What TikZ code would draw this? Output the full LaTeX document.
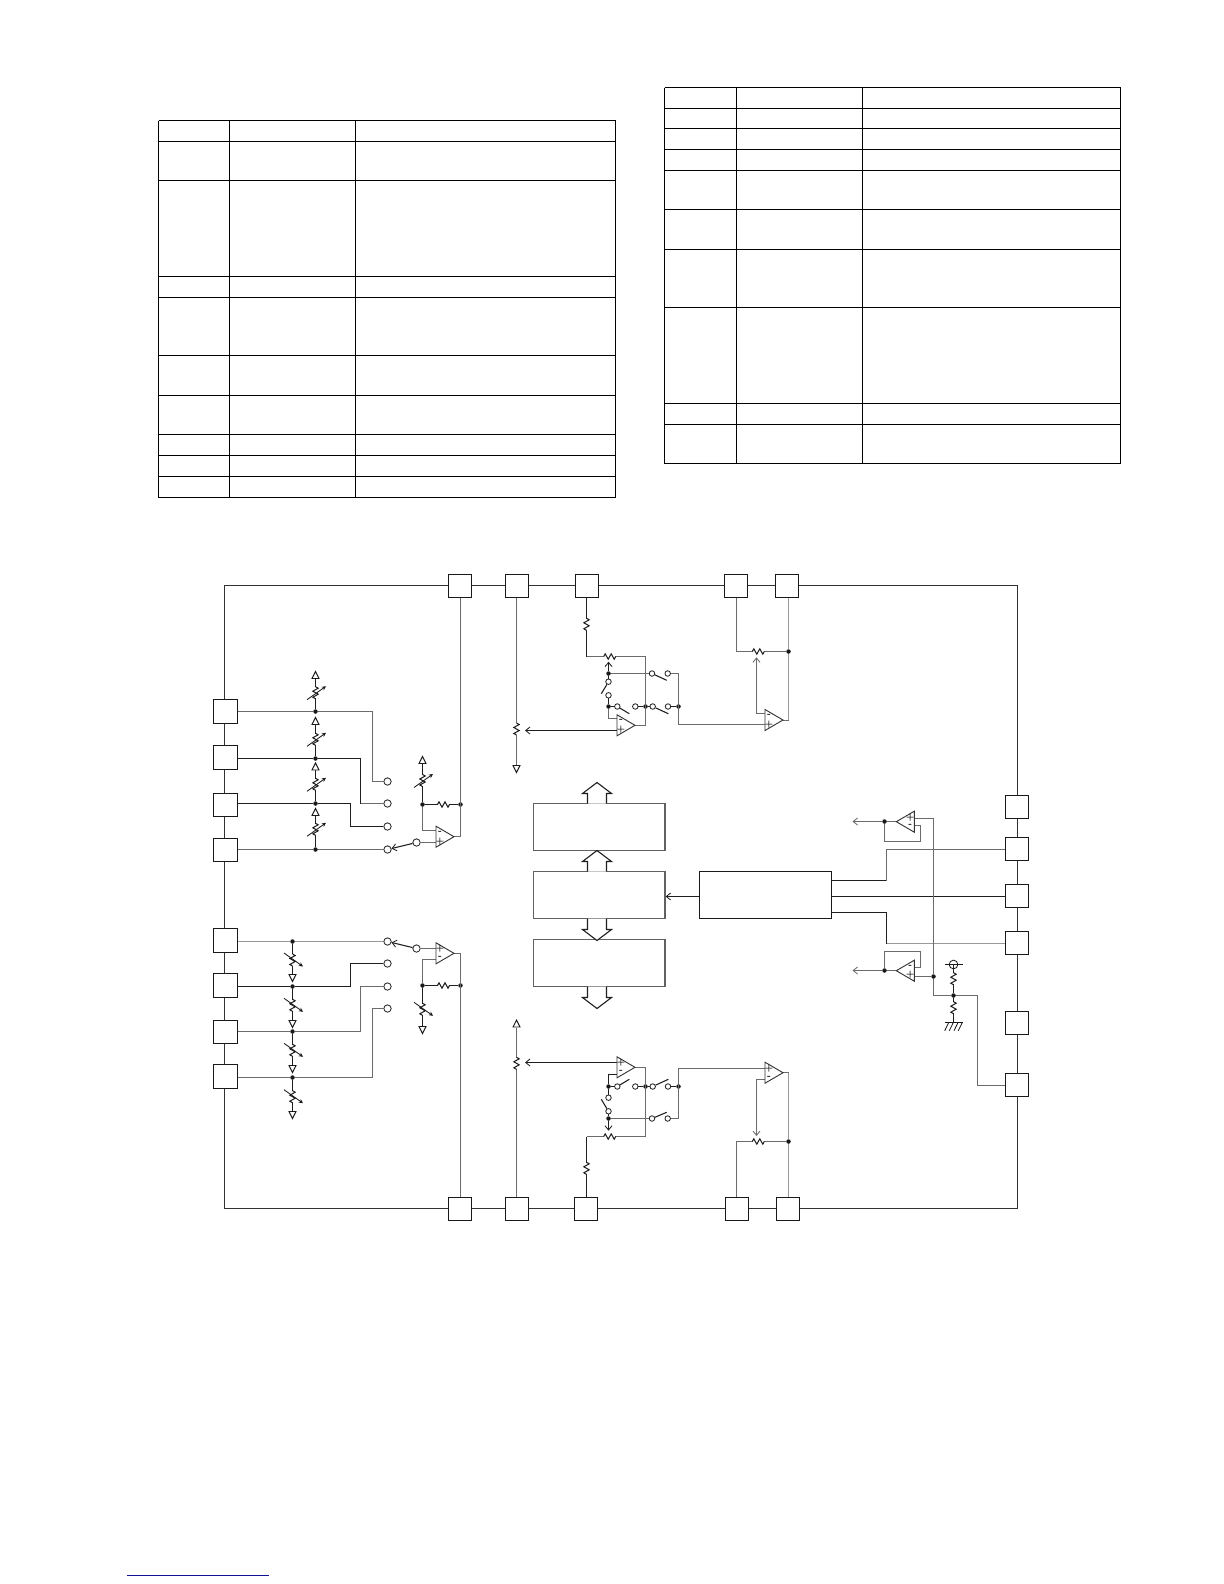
\documentclass[tikz,border=0pt]{standalone}
\usetikzlibrary{arrows.meta}
\definecolor{navyrule}{RGB}{18,18,150}
\tikzset{
 x=0.6pt,y=-0.6pt,
 wire/.style={line width=.64pt,draw=black!88},
 gw/.style={line width=.7pt,draw=black!58},
 lg/.style={line width=.8pt,draw=black!40},
 rule/.style={line width=.7pt,draw=black},
 pin/.style={draw=black!90,fill=white,line width=.6pt,minimum width=14pt,minimum height=14pt,inner sep=0pt},
 blk/.style={draw=black!62,fill=white,line width=.72pt,minimum width=79pt,minimum height=28.4pt,inner sep=0pt},
 dotn/.style={circle,fill=black!90,inner sep=0pt,minimum size=2.7pt},
 term/.style={circle,draw=black!85,fill=white,line width=.5pt,inner sep=0pt,minimum size=4.4pt},
 sterm/.style={circle,draw=black!85,fill=white,line width=.5pt,inner sep=0pt,minimum size=3.3pt},
 sign/.style={inner sep=0pt,font=\fontsize{4.5}{4.5}\selectfont\bfseries},
 barb/.style={-{Straight Barb[length=2.6pt,width=4.2pt,line width=.5pt]}},
 fat/.style={draw=black!88,fill=white,line width=.66pt},
 pics/hres/.style={code={\fill[white] (-5.6,-1) rectangle (5.6,1);
   \draw[line width=.6pt,black!90] (-6,0)--(-4.5,-2.7)--(-1.5,2.7)--(1.5,-2.7)--(4.5,2.7)--(6,0);}},
 pics/vres/.style={code={\fill[white] (-1,-5.6) rectangle (1,5.6);
   \draw[line width=.6pt,black!90] (0,-6)--(2.7,-4.5)--(-2.7,-1.5)--(2.7,1.5)--(-2.7,4.5)--(0,6);}},
 pics/varu/.style={code={\pic {vres};
   \draw[line width=.5pt,black!90,-{Stealth[length=2.5pt,width=2.4pt]}] (-8.5,7)--(10.5,-6.5);}},
 pics/vard/.style={code={\pic {vres};
   \draw[line width=.5pt,black!90,-{Stealth[length=2.5pt,width=2.4pt]}] (-8.5,-7)--(10.5,6.5);}},
 pics/triu/.style={code={\draw[line width=.55pt,black!90,fill=white] (0,0)--(3.5,7)--(-3.5,7)--cycle;}},
 pics/trid/.style={code={\draw[line width=.55pt,black!90,fill=white] (0,0)--(3.5,-7)--(-3.5,-7)--cycle;}},
 pics/ampr/.style 2 args={code={\draw[line width=.55pt,black!80,fill=white] (0,-10.5)--(0,10.5)--(18,0)--cycle;
   \node[sign] at (4,-4.5) {#1}; \node[sign] at (4,4.5) {#2};}},
 pics/ampl/.style 2 args={code={\draw[line width=.55pt,black!80,fill=white] (0,-10.5)--(0,10.5)--(-18,0)--cycle;
   \node[sign] at (-4,-4) {#1}; \node[sign] at (-4,4) {#2};}},
}
\begin{document}
\begin{tikzpicture}
\path[use as bounding box,fill=white] (0,0) rectangle (1224,1584);

% ---- tables
\foreach \y in {120.5,141.5,180.5,276.5,297.5,355.5,395.5,434.5,455.5,476.5,497.5}
  \draw[rule] (158.5,\y)--(615.5,\y);
\foreach \x in {158.5,229.5,355.5,615.5}
  \draw[rule] (\x,120.5)--(\x,497.5);
\foreach \y in {87.5,108.5,128.5,149.5,170.5,209.5,249.5,307.5,403.5,424.5,463.5}
  \draw[rule] (664.5,\y)--(1120.5,\y);
\foreach \x in {664.5,736.5,862.5,1120.5}
  \draw[rule] (\x,87.5)--(\x,463.5);

% ---- chip outline
\draw[line width=.68pt,black!80] (224.5,585.5) rectangle (1017.5,1208.5);
\draw[line width=.95pt,draw=navyrule] (127,1575.5)--(269,1575.5);

% ---- pins
\foreach \n/\y in {L1/711.5,L2/757.5,L3/805,L4/850,L5/940.5,L6/985.5,L7/1032,L8/1076.5}
  \node[pin] (\n) at (225.5,\y) {};
\foreach \n/\x in {T1/460,T2/517,T3/587,T4/736,T5/787}
  \node[pin] (\n) at (\x,586) {};
\foreach \n/\x in {B1/460,B2/517,B3/586,B4/737,B5/788}
  \node[pin] (\n) at (\x,1209) {};
\foreach \n/\y in {R1/807,R2/849,R3/895.8,R4/942.8,R5/1023,R6/1085}
  \node[pin] (\n) at (1017,\y) {};

% ---- centre blocks
\node[blk] (BA) at (599.2,827) {};
\node[blk] (BB) at (599.2,895) {};
\node[blk] (BC) at (599.2,963.2) {};
\node[blk,draw=black!90] (BD) at (765.5,894.8) {};
\draw[wire,barb] (BD.west |- 0,896.5) -- (BB.east |- 0,896.5);
\draw[fat] (587.5,803.5)--(587.5,793.5)--(582.5,793.5)--(597,782.5)--(611.5,793.5)--(606.5,793.5)--(606.5,803.5);
\draw[fat] (587.5,871.5)--(587.5,861.5)--(582.5,861.5)--(597,850.5)--(611.5,861.5)--(606.5,861.5)--(606.5,871.5);
\draw[fat] (587.5,918.5)--(587.5,929.5)--(582.5,929.5)--(597,940.5)--(611.5,929.5)--(606.5,929.5)--(606.5,918.5);
\draw[fat] (587.5,986.5)--(587.5,997.5)--(582.5,997.5)--(597,1008.5)--(611.5,997.5)--(606.5,997.5)--(606.5,986.5);

% ---- upper left group
\foreach \n/\y in {d1/711.5,d2/758.5,d3/803.5,d4/849.5} \node[dotn] (\n) at (315.5,\y) {};
\foreach \n/\y in {c1/781.5,c2/803.5,c3/826.5,c4/849.5} \node[term] (\n) at (387.5,\y) {};
\foreach \n/\y in {v1/678.5,v2/724.5,v3/769.5,v4/815.5} \coordinate (\n) at (315.5,\y);
\draw[wire] (v1)--(d1); \draw[wire] (v2)--(d2); \draw[wire] (v3)--(d3); \draw[wire] (v4)--(d4);
\draw[gw] (L1.east |- d1)--(d1)--(372.5,711.5)--(372.5,781.5)--(c1);
\draw[wire] (L2.east |- d2)--(d2)--(360.5,758.5)--(360.5,803.5);
\draw[gw] (360.5,803.5)--(c2);
\draw[wire] (L3.east |- d3)--(d3)--(350.5,803.5)--(350.5,826.5)--(c3);
\draw[gw] (L4.east |- d4)--(d4)--(c4);
\foreach \y in {671.5,717.5,763,808.5} \pic at (315.5,\y) {triu};
\foreach \y in {692.7,739.3,784.3,829.3} \pic at (315.5,\y) {varu};
\node[term] (c5) at (416.5,842.5) {};
\coordinate (u1) at (436,842.5); \coordinate (u2) at (436,830.5);
\node[dotn] (e1) at (422.5,804.5) {}; \node[dotn] (e2) at (460.5,804.5) {};
\coordinate (e3) at (422.5,764); 
\draw[wire,barb] (c5)--(c4);
\draw[gw] (c5)--(u1);
\draw[gw] (u2)--(u2 -| e1)--(e1);
\draw[wire] (e1)--(e3); \draw[wire] (e1)--(e2);
\draw[gw] (454,836.5)--(460.5,836.5)--(T1.south -| e2);
\pic at (443.5,804.5) {hres};
\pic at (422.5,756.5) {triu};
\pic at (422.5,780.5) {varu};
\pic at (436,836.7) {ampr={-}{+}};

% ---- lower left group
\foreach \n/\y in {f1/941.5,f2/986.5,f3/1031.5,f4/1077.5} \node[dotn] (\n) at (292.5,\y) {};
\foreach \n/\y in {g1/941.5,g2/963.5,g3/986.5,g4/1008.5} \node[term] (\n) at (387.5,\y) {};
\foreach \n/\y in {h1/974.5,h2/1020.5,h3/1065.5,h4/1111.5} \coordinate (\n) at (292.5,\y);
\draw[wire] (f1)--(h1); \draw[wire] (f2)--(h2); \draw[wire] (f3)--(h3); \draw[wire] (f4)--(h4);
\draw[lg] (L5.east |- f1)--(f1)--(g1);
\draw[wire] (L6.east |- f2)--(f2)--(350.5,986.5)--(350.5,963.5)--(g2);
\draw[gw] (L7.east |- f3)--(f3)--(360.5,1031.5)--(360.5,986.5)--(g3);
\draw[gw] (L8.east |- f4)--(f4)--(372.5,1077.5)--(372.5,1008.5)--(g4);
\foreach \y in {981.5,1027.5,1072.5,1118.5} \pic at (292.5,\y) {trid};
\foreach \y in {960,1005.3,1050.3,1096.7} \pic at (292.5,\y) {vard};
\node[term] (g5) at (416.5,948.5) {};
\coordinate (u3) at (436,948.5); \coordinate (u4) at (436,959.5);
\node[dotn] (e4) at (422.5,985.5) {}; \node[dotn] (e5) at (460.5,985.5) {};
\coordinate (e6) at (422.5,1026);
\draw[wire,barb] (g5)--(g1);
\draw[gw] (g5)--(u3);
\draw[gw] (u4)--(u4 -| e4)--(e4);
\draw[wire] (e4)--(e6); \draw[wire] (e4)--(e5);
\draw[gw] (454,953.5)--(460.5,953.5)--(B1.north -| e5);
\pic at (443.5,985.5) {hres};
\pic at (422.5,1033.5) {trid};
\pic at (422.5,1009.3) {vard};
\pic at (436,953.3) {ampr={+}{-}};

% ---- upper middle group
\coordinate (w2) at (525,730.5);
\coordinate (k1) at (516.5,765.5);
\draw[gw] (T2.south -| k1)--(k1);
\draw[wire,barb] (617,730.5)--(w2);
\pic at (516.5,729) {vres};
\pic at (516.5,772.5) {trid};
\coordinate (n1) at (586.5,656.5); \coordinate (n2) at (645.5,656.5);
\node[dotn] (da) at (608.5,673.5) {}; \node[dotn] (db) at (608.5,706.5) {};
\node[dotn] (dc) at (645.5,706.5) {}; \node[dotn] (dd) at (678.5,706.5) {};
\node[sterm] (s1) at (617.3,706.5) {}; \node[sterm] (s2) at (635.3,706.5) {};
\node[sterm] (s3) at (652.7,706.5) {}; \node[sterm] (s4) at (668,706.5) {};
\node[sterm] (s5) at (652,673.5) {};   \node[sterm] (s6) at (667.7,673.5) {};
\node[sterm] (s7) at (608.5,681.7) {}; \node[sterm] (s8) at (608.5,695.3) {};
\coordinate (a1) at (629.3,713.7); \coordinate (a2) at (668.3,713.7);
\coordinate (a3) at (666.7,680.3); \coordinate (a4) at (601.3,693.7);
\coordinate (ww) at (608.5,661.7);
\draw[wire] (T3.south -| n1)--(n1);
\draw[gw] (n1)--(n2)--(645.5,725.5)--(635,725.5);
\draw[gw] (617,718.5)--(608.5,718.5)--(db);
\draw[wire] (db)--(s1); \draw[wire] (s2)--(dc); \draw[wire] (dc)--(s3); \draw[wire] (s4)--(dd);
\draw[gw] (da)--(s5);
\draw[gw] (s6)--(678.5,673.5)--(678.5,724.5)--(765,724.5);
\draw[wire] (da)--(s7); \draw[wire] (s8)--(db);
\draw[wire] (s1)--(a1); \draw[wire] (s3)--(a2); \draw[wire] (s5)--(a3); \draw[wire] (s7)--(a4);
\draw[wire,barb] (da)--(ww);
\pic at (586.5,624.3) {vres};
\pic at (609.7,656.5) {hres};
\pic at (617,725.3) {ampr={-}{+}};
\node[dotn] (dT) at (788.5,651.5) {};
\coordinate (m1) at (736.5,651.5);
\coordinate (m2) at (756.5,657.3);
\draw[gw] (T4.south -| m1)--(m1)--(dT);
\draw[lg] (T5.south -| dT)--(dT)--(788.5,720.5);
\draw[gw] (788.5,720.5)--(783,720.5);
\draw[gw,barb] (765,713.5)--(756.5,713.5)--(m2);
\pic at (758.3,651.5) {hres};
\pic at (765,720) {ampr={-}{+}};

% ---- lower middle group
\coordinate (w3) at (525,1062.5);
\coordinate (k2) at (516.5,1027.5);
\draw[gw] (B2.north -| k2)--(k2);
\draw[wire,barb] (617,1062.5)--(w3);
\pic at (516.5,1063.3) {vres};
\pic at (516.5,1020) {triu};
\coordinate (n3) at (586.5,1136.5); \coordinate (n4) at (645.5,1136.5);
\node[dotn] (pa) at (608.5,1118.5) {}; \node[dotn] (pb) at (608.5,1086.5) {};
\node[dotn] (pc) at (645.5,1086.5) {}; \node[dotn] (pd) at (678.5,1086.5) {};
\node[sterm] (q1) at (617.3,1086.5) {}; \node[sterm] (q2) at (635.3,1086.5) {};
\node[sterm] (q3) at (652.7,1086.5) {}; \node[sterm] (q4) at (668,1086.5) {};
\node[sterm] (q5) at (652,1118.5) {};   \node[sterm] (q6) at (667.7,1118.5) {};
\node[sterm] (q7) at (608.5,1111.3) {}; \node[sterm] (q8) at (608.5,1097.7) {};
\coordinate (b1) at (629.3,1079.3); \coordinate (b2) at (668.3,1079.3);
\coordinate (b3) at (666.7,1112.3); \coordinate (b4) at (601.3,1099.3);
\coordinate (wz) at (608.5,1130.7);
\draw[wire] (B3.north -| n3)--(n3);
\draw[gw] (n3)--(n4)--(645.5,1067.5)--(635,1067.5);
\draw[wire] (617,1074.5)--(608.5,1074.5)--(pb);
\draw[wire] (pb)--(q1); \draw[wire] (q2)--(pc); \draw[wire] (pc)--(q3); \draw[wire] (q4)--(pd);
\draw[gw] (pa)--(q5);
\draw[gw] (q6)--(678.5,1118.5)--(678.5,1068.5)--(765,1068.5);
\draw[wire] (pa)--(q7); \draw[wire] (q8)--(pb);
\draw[wire] (q1)--(b1); \draw[wire] (q3)--(b2); \draw[wire] (q5)--(b3); \draw[wire] (q7)--(b4);
\draw[wire,barb] (pa)--(wz);
\pic at (586.5,1168.3) {vres};
\pic at (609.7,1136.5) {hres};
\pic at (617,1067.3) {ampr={+}{-}};
\node[dotn] (dB) at (788.5,1141.5) {};
\coordinate (m3) at (736.5,1141.5);
\coordinate (m4) at (756.5,1136);
\draw[gw] (B4.north -| m3)--(m3)--(dB);
\draw[lg] (B5.north -| dB)--(dB)--(788.5,1072.5);
\draw[gw] (788.5,1072.5)--(783,1072.5);
\draw[gw,barb] (765,1079.5)--(756.5,1079.5)--(m4);
\pic at (758.3,1141.5) {hres};
\pic at (765,1072.7) {ampr={+}{-}};

% ---- right side
\coordinate (r1) at (886.5,880.5); \coordinate (r2) at (886.5,912.5);
\draw[wire] (BD.east |- r1)--(r1);
\draw[gw] (r1)--(886.5,849.5)--(R2.west |- 0,849.5);
\draw[wire] (BD.east |- 0,896.5)--(R3.west |- 0,896.5);
\draw[wire] (BD.east |- r2)--(r2);
\draw[wire] (r2)--(886.5,943.5);
\draw[lg] (886.5,943.5)--(R4.west |- 0,943.5);
% buffers
\node[dotn] (o1) at (884.5,821.5) {}; \node[dotn] (o2) at (884.5,970.5) {};
\coordinate (t1) at (852.5,821.5); \coordinate (t2) at (852.5,970.5);
\node[dotn] (j1) at (933.5,976.5) {}; \node[dotn] (j2) at (953.5,995.5) {};
\draw[gw,barb] (896.3,821.5)--(o1)--(t1);
\draw[gw,barb] (896.3,970.5)--(o2)--(t2);
\draw[gw] (o1)--(884.5,841.5)--(920.5,841.5)--(920.5,825.5)--(914.3,825.5);
\draw[gw] (o2)--(884.5,951.5)--(920.5,951.5)--(920.5,967.5)--(914.3,967.5);
\draw[gw] (914.3,818.5)--(933.5,818.5)--(j1);
\draw[gw] (j1)--(933.5,995.5)--(j2);
\draw[gw] (914.3,976.5)--(j1);
\draw[gw] (j2)--(977.5,995.5)--(977.5,1085.5)--(R6.west |- 0,1085.5);
\pic at (914.3,821.7) {ampl={+}{-}};
\pic at (914.3,970.7) {ampl={-}{+}};
% bias divider
\node[circle,draw=black!90,line width=.5pt,inner sep=0pt,minimum size=5.2pt] (vc) at (953.5,964.5) {};
\coordinate (gn) at (953.5,1022.5);
\draw[wire] (953.5,964.5)--(j2)--(gn);
\draw[line width=.55pt,black!90] (944.5,964.5)--(962.5,964.5);
\draw[line width=.55pt,black!90] (944.5,1022.5)--(962.5,1022.5);
\foreach \x in {948.7,953.3,958,962.3} \draw[line width=.5pt,black!90] (\x,1022.5)--(\x-4,1030.7);
\pic at (953.5,978.7) {vres};
\pic at (953.5,1007.7) {vres};
\end{tikzpicture}
\end{document}
